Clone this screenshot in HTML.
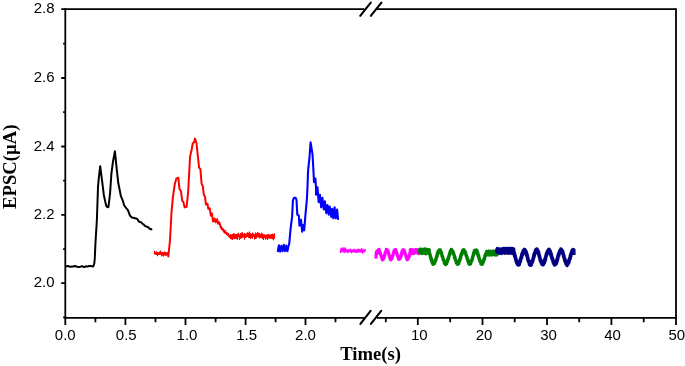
<!DOCTYPE html>
<html><head><meta charset="utf-8"><title>EPSC vs Time</title>
<style>
html,body{margin:0;padding:0;background:#fff;}
body{width:685px;height:366px;overflow:hidden;}
svg{display:block;}
.t{font-family:"Liberation Sans",Arial,sans-serif;font-size:15px;fill:#000;}
.b{font-family:"Liberation Serif","Times New Roman",serif;font-weight:bold;font-size:18.67px;fill:#000;}
</style></head><body>
<svg width="685" height="366" viewBox="0 0 685 366">
<rect width="685" height="366" fill="#fff"/>
<g stroke="#000" stroke-width="1.8" fill="none" stroke-linecap="butt">
<path d="M65.3,318.7 V8.299999999999999"/>
<path d="M676.0,318.7 V8.299999999999999"/>
<path d="M65.3,9.2 H364.4 M377,9.2 H676.0"/>
<path d="M65.3,317.8 H364.4 M377,317.8 H676.0"/>
<path d="M61.2,9.2 H65.3 M61.2,78.0 H65.3 M61.2,146.5 H65.3 M61.2,214.9 H65.3 M61.2,283.2 H65.3 M63.1,43.6 H65.3 M63.1,112.2 H65.3 M63.1,180.7 H65.3 M63.1,249.1 H65.3 M63.1,317.45 H65.3 "/>
<path d="M65.3,317.8 V325.0 M125.4,317.8 V325.0 M185.5,317.8 V325.0 M245.6,317.8 V325.0 M305.5,317.8 V325.0 M417.8,317.8 V325.0 M482.5,317.8 V325.0 M547.0,317.8 V325.0 M611.4,317.8 V325.0 M676.0,317.8 V325.0 M95.4,317.8 V322.2 M155.5,317.8 V322.2 M215.6,317.8 V322.2 M275.6,317.8 V322.2 M335.5,317.8 V322.2 M385.8,317.8 V322.2 M450.2,317.8 V322.2 M514.7,317.8 V322.2 M579.2,317.8 V322.2 M643.7,317.8 V322.2 "/>
</g>
<g stroke="#000" stroke-width="2.1" stroke-linecap="round" fill="none">
<path d="M360.4,323.9 L370.6,310.9 M370.9,323.9 L381.2,310.9"/>
<path d="M360.2,15.8 L370.8,2.6 M370.8,15.8 L381.4,2.6"/>
</g>
<g class="t" text-anchor="end">
<text x="54.6" y="13.4">2.8</text>
<text x="54.6" y="82.2">2.6</text>
<text x="54.6" y="150.7">2.4</text>
<text x="54.6" y="219.1">2.2</text>
<text x="54.6" y="287.4">2.0</text>
</g>
<g class="t" text-anchor="middle">
<text x="65.3" y="340.4">0.0</text>
<text x="126.3" y="340.4">0.5</text>
<text x="187.0" y="340.4">1.0</text>
<text x="246.6" y="340.4">1.5</text>
<text x="305.5" y="340.4">2.0</text>
<text x="419.3" y="340.4">10</text>
<text x="484.1" y="340.4">20</text>
<text x="548.5" y="340.4">30</text>
<text x="612.6" y="340.4">40</text>
<text x="676.8" y="340.4">50</text>
</g>
<text class="b" x="340.2" y="359.8">Time(s)</text>
<text class="b" transform="translate(15.9,208.9) rotate(-90)">EPSC(µA)</text>
<path d="M65.5,266.5 L66.6,266.2 L68.0,266.0 L69.4,266.5 L70.8,266.7 L72.2,266.4 L73.6,266.5 L75.0,266.0 L76.4,266.5 L77.8,266.9 L79.2,266.9 L80.6,266.7 L82.0,266.1 L83.4,266.9 L84.8,266.9 L86.2,266.2 L87.6,266.6 L89.0,266.0 L90.4,266.1 L91.8,266.3 L93.2,266.5 L94.3,263.5 L94.8,258.0 L95.4,244.0 L96.9,219.5 L98.0,187.0 L98.8,178.0 L100.2,166.2 L101.9,179.4 L103.8,194.7 L105.2,201.5 L106.3,206.0 L107.3,207.2 L108.4,207.0 L109.3,200.0 L110.1,192.8 L111.4,173.7 L112.9,162.2 L114.9,151.2 L116.8,169.9 L118.3,183.3 L119.7,190.0 L120.8,195.9 L122.7,200.3 L124.2,205.5 L126.4,208.4 L127.8,209.9 L130.1,215.8 L131.3,217.0 L132.5,217.8 L133.7,217.7 L134.9,218.3 L136.2,218.5 L137.4,219.1 L138.6,221.2 L139.9,222.1 L141.1,222.2 L142.3,223.7 L143.6,224.3 L144.8,225.8 L146.0,226.3 L147.3,226.9 L148.5,227.5 L149.7,228.8 L151.0,229.4 L152.2,228.8" fill="none" stroke="#000" stroke-width="2.0" stroke-linejoin="round" stroke-linecap="butt"/>
<path d="M154.4,253.5 L168.2,253.9 L168.3,256.5 L169.9,241.5 L171.0,222.0 L171.4,213.3 L172.9,197.1 L173.6,192.0 L174.8,184.0 L176.3,178.7 L178.3,177.7 L179.5,189.0 L181.0,191.2 L182.2,200.8 L183.2,201.5 L184.7,207.4 L186.6,206.7 L188.1,192.7 L189.1,174.2 L190.1,156.5 L191.7,149.2 L192.8,143.3 L194.0,142.5 L195.0,138.6 L196.5,143.3 L197.9,156.5 L199.1,167.6 L200.4,169.1 L201.6,183.8 L202.8,186.1 L203.8,194.9 L204.9,196.4 L206.0,204.5 L207.5,203.8 L208.3,208.9 L209.7,208.2 L210.8,215.6 L211.9,213.3 L213.1,221.5 L214.6,218.5 L215.6,222.2 L217.1,219.2 L218.1,223.7 L219.3,222.2 L220.8,227.4 L223.7,230.8 L227.4,234.0 L229.6,236.6 L234.8,236.3 L242.2,235.6 L256.5,235.6 L266.0,236.3 L275.0,236.8" fill="none" stroke="#f00" stroke-width="2.0" stroke-linejoin="round" stroke-linecap="butt"/>
<path d="M154.5,250.7V254.1M155.5,252.2V254.8M156.5,251.3V255.0M157.5,252.1V256.3M158.5,252.3V255.1M159.5,251.4V254.6M160.5,250.5V254.2M161.5,251.9V256.6M162.5,252.0V255.8M163.5,252.3V256.6M164.5,251.5V255.6M165.5,251.8V255.8M166.5,252.5V255.8M167.5,252.0V255.2M221.5,226.1V229.9M222.5,227.8V230.3M223.5,228.4V232.5M224.5,229.7V233.4M225.5,230.3V233.7M226.5,231.9V234.9M227.5,232.4V235.4M228.5,233.1V236.6M229.5,235.5V237.8M230.5,233.9V239.0M231.5,234.6V239.4M232.5,234.0V239.9M233.5,233.2V238.8M234.5,233.4V239.3M235.5,234.1V239.1M236.5,234.0V239.0M237.5,233.4V240.0M238.5,232.7V237.6M239.5,234.4V239.9M240.5,233.0V238.8M241.5,232.5V238.4M242.5,232.2V237.7M243.5,233.8V237.4M244.5,232.9V239.7M245.5,233.8V238.0M246.5,233.2V237.6M247.5,232.3V236.8M248.5,232.7V238.1M249.5,231.4V237.9M250.5,233.1V238.9M251.5,233.8V238.1M252.5,232.4V238.7M253.5,233.4V237.0M254.5,234.5V239.5M255.5,232.6V239.1M256.5,233.3V238.5M257.5,232.3V237.2M258.5,232.6V237.4M259.5,233.0V238.4M260.5,234.0V237.9M261.5,232.6V238.1M262.5,233.4V238.9M263.5,234.2V240.0M264.5,234.2V237.9M265.5,234.8V239.8M266.5,234.4V238.8M267.5,234.3V239.9M268.5,234.0V238.5M269.5,234.6V238.7M270.5,234.4V238.4M271.5,234.1V238.9M272.5,233.8V239.3M273.5,233.9V240.3M274.5,233.3V238.7" fill="none" stroke="#f00" stroke-width="1.15"/>
<path d="M277.7,252.0 L278.9,245.2 L280.1,251.6 L281.3,245.9 L282.5,251.3 L283.8,244.9 L285.0,251.1 L286.2,245.6 L287.4,251.3 L288.6,245.6 L289.2,244.2 L290.5,229.5 L291.4,222.0 L292.1,216.9 L292.9,200.6 L293.8,198.0 L294.8,197.7 L295.8,198.0 L296.5,199.9 L297.3,214.7 L298.8,215.4 L299.5,225.7 L301.0,219.8 L302.2,231.6 L303.2,225.0 L304.2,230.1 L305.4,215.4 L306.9,199.2 L307.4,189.0 L308.1,170.4 L309.5,157.1 L310.6,142.4 L312.5,154.2 L313.5,171.9 L314.0,182.2 L315.4,178.5 L316.0,187.4 L316.0,194.7 L317.5,187.4 L318.7,202.1 L319.9,194.7 L321.2,207.3 L322.4,197.7 L323.8,209.5 L324.9,201.4 L326.3,213.2 L327.5,205.1 L328.7,214.7 L329.7,206.5 L331.2,216.9 L332.2,208.8 L333.4,218.3 L334.6,207.3 L335.8,218.3 L337.1,209.5 L338.1,219.8" fill="none" stroke="#00f" stroke-width="2.1" stroke-linejoin="round" stroke-linecap="butt"/>
<path d="M340.4,252.9 L341.3,248.3 L342.2,251.6 L343.2,248.0 L344.1,252.4 L345.0,248.0 L345.9,251.9 L346.8,249.6 L347.8,252.5 L348.7,249.8 L349.6,251.6 L350.5,249.3 L351.5,252.6 L352.4,250.0 L353.3,251.8 L354.3,249.3 L355.2,252.3 L356.1,250.0 L357.0,252.5 L358.0,249.3 L358.9,252.1 L359.8,249.6 L360.8,251.8 L361.7,248.7 L362.6,253.0 L363.5,250.0 L364.5,251.7 L365.4,249.2" fill="none" stroke="#f0f" stroke-width="1.6" stroke-linejoin="round" stroke-linecap="butt"/>
<path d="M375.9,258.6 L376.1,255.0 L376.5,251.5 L377.0,254.2 L377.3,251.0 L377.6,252.1 L377.9,250.2 L378.2,250.9 L378.5,249.5 L378.8,251.2 L379.1,249.3 L379.4,251.4 L379.7,251.2 L380.0,253.4 L380.3,252.4 L380.6,254.9 L380.9,254.9 L381.2,256.7 L381.5,256.2 L381.8,258.6 L382.1,257.9 L382.4,259.9 L382.7,258.5 L383.0,259.8 L383.3,258.1 L383.6,258.5 L383.9,256.4 L384.2,257.7 L384.5,254.8 L384.8,255.4 L385.1,252.6 L385.4,253.1 L385.7,251.2 L386.0,252.3 L386.3,249.4 L386.6,250.7 L386.9,249.8 L387.2,251.4 L387.5,249.9 L387.8,252.3 L388.1,251.0 L388.4,253.7 L388.7,252.8 L389.0,255.7 L389.3,255.4 L389.6,257.5 L389.9,256.3 L390.2,259.3 L390.5,257.7 L390.8,259.9 L391.1,257.9 L391.4,259.5 L391.7,257.7 L392.0,258.8 L392.3,255.9 L392.6,256.8 L392.9,254.6 L393.2,254.8 L393.5,252.4 L393.8,252.8 L394.1,250.5 L394.4,252.1 L394.7,249.7 L395.0,251.5 L395.3,249.5 L395.6,251.3 L395.9,249.6 L396.2,252.6 L396.5,251.5 L396.8,254.3 L397.1,253.4 L397.4,256.3 L397.7,255.6 L398.0,257.6 L398.3,256.9 L398.6,259.3 L398.9,258.0 L399.2,259.5 L399.5,257.7 L399.8,259.1 L400.1,256.9 L400.4,258.2 L400.7,256.0 L401.0,257.0 L401.3,253.5 L401.6,254.8 L401.9,251.5 L402.2,252.5 L402.5,250.0 L402.8,251.6 L403.1,249.7 L403.4,251.1 L403.7,249.8 L404.0,251.7 L404.3,250.2 L404.6,252.4 L404.9,252.1 L405.2,254.3 L405.5,253.9 L405.8,256.3 L406.1,255.9 L406.4,258.3 L406.7,257.6 L407.0,259.7 L407.3,258.1 L407.6,259.8 L407.9,257.9 L408.2,259.0 L408.5,256.7 L408.8,257.6 L409.1,255.4 L409.4,256.6 L410.0,252.6 L410.3,249.8 L410.6,253.7 L410.9,249.3 L411.2,252.8 L411.5,249.8 L411.8,253.6 L412.1,249.8 L412.4,253.5 L412.7,249.7 L413.0,252.4 L413.3,250.2 L413.6,253.6 L413.9,250.0 L414.2,252.9 L414.5,250.3 L414.8,252.5 L415.1,249.8 L415.5,252.9 L415.8,249.5 L416.1,252.4 L416.4,249.5 L416.7,252.4 L417.0,249.5 L417.3,252.9 L417.6,249.7 L417.9,252.9 L418.2,250.5 L418.5,253.6 L418.8,249.8 L419.1,252.6 L419.4,249.9" fill="none" stroke="#f0f" stroke-width="3.1" stroke-linejoin="round" stroke-linecap="butt"/>
<path d="M419.4,252.5 L419.7,249.6 L420.0,253.2 L420.3,249.2 L420.6,252.4 L420.9,249.9 L421.2,253.0 L421.5,249.4 L421.8,253.6 L422.1,249.3 L422.4,253.5 L422.7,249.6 L423.0,252.5 L423.3,249.8 L423.6,252.3 L423.9,249.7 L424.2,253.3 L424.4,248.9 L424.7,252.6 L425.0,249.1 L425.3,253.5 L425.6,249.2 L425.9,253.8 L426.2,249.3 L426.5,253.0 L426.8,249.4 L427.1,252.3 L427.4,250.3 L427.7,253.1 L428.0,249.7 L428.3,252.5 L428.6,249.7 L428.9,253.3 L429.2,249.5 L429.3,254.0 L429.6,252.7 L429.9,255.3 L430.2,254.4 L430.5,258.0 L430.8,256.9 L431.1,259.9 L431.4,258.3 L431.7,261.7 L432.0,260.2 L432.3,263.2 L432.6,261.2 L432.9,264.4 L433.2,262.5 L433.5,263.9 L433.8,262.6 L434.1,264.0 L434.4,262.1 L434.7,263.3 L435.0,260.3 L435.3,261.6 L435.6,259.3 L435.9,260.6 L436.2,257.7 L436.5,258.1 L436.8,255.3 L437.1,256.6 L437.4,253.0 L437.7,254.2 L438.0,251.3 L438.3,252.9 L438.6,250.9 L438.9,251.6 L439.2,249.8 L439.5,251.9 L439.8,250.1 L440.1,251.5 L440.4,249.9 L440.7,252.9 L441.0,251.6 L441.3,253.5 L441.6,252.6 L441.9,256.0 L442.2,255.1 L442.5,257.6 L442.8,257.0 L443.1,259.7 L443.4,259.0 L443.7,261.0 L444.0,260.2 L444.3,263.4 L444.6,262.0 L444.9,263.5 L445.2,262.6 L445.5,264.7 L445.8,262.7 L446.1,263.9 L446.4,262.0 L446.7,263.8 L447.0,261.1 L447.3,262.1 L447.6,259.3 L447.9,260.4 L448.2,257.5 L448.5,258.8 L448.8,255.8 L449.1,256.5 L449.4,253.9 L449.7,255.0 L450.0,251.9 L450.3,253.6 L450.6,250.4 L450.9,251.7 L451.2,249.4 L451.5,251.4 L451.8,249.5 L452.1,252.0 L452.4,250.5 L452.7,252.2 L453.0,251.2 L453.3,253.7 L453.6,252.9 L453.9,255.3 L454.2,254.6 L454.5,257.9 L454.8,256.5 L455.1,259.4 L455.4,258.7 L455.7,260.9 L456.0,260.4 L456.3,263.2 L456.6,261.0 L456.9,263.5 L457.2,262.3 L457.5,264.4 L457.8,262.4 L458.1,263.9 L458.4,262.4 L458.7,263.8 L459.0,261.3 L459.3,262.1 L459.6,259.2 L459.9,260.7 L460.2,257.7 L460.5,258.9 L460.8,255.1 L461.1,256.6 L461.4,253.3 L461.7,254.8 L462.0,252.1 L462.3,253.7 L462.6,250.4 L462.9,251.7 L463.2,249.8 L463.5,251.5 L463.8,249.6 L464.1,252.0 L464.4,250.2 L464.7,252.5 L465.0,251.3 L465.3,253.6 L465.6,252.1 L465.9,255.6 L466.2,254.5 L466.5,257.0 L466.8,256.2 L467.1,259.2 L467.4,257.8 L467.7,260.9 L468.0,259.6 L468.3,262.4 L468.6,261.0 L468.9,264.2 L469.2,262.5 L469.5,264.3 L469.8,262.2 L470.1,264.2 L470.4,262.4 L470.7,263.8 L471.0,261.1 L471.3,262.0 L471.6,260.1 L471.9,260.7 L472.2,258.0 L472.5,259.1 L472.8,256.2 L473.1,256.3 L473.4,253.4 L473.7,254.8 L474.0,251.7 L474.3,253.4 L474.6,250.3 L474.9,252.7 L475.2,250.3 L475.5,251.4 L475.8,250.0 L476.1,252.2 L476.4,249.8 L476.7,252.8 L477.0,250.4 L477.3,253.9 L477.6,252.0 L477.9,255.7 L478.2,254.1 L478.5,257.4 L478.8,255.7 L479.1,259.1 L479.4,258.4 L479.7,261.2 L480.0,260.3 L480.3,262.4 L480.6,261.4 L480.9,264.0 L481.2,262.6 L481.5,264.1 L481.8,262.6 L482.1,264.5 L482.4,261.7 L482.7,263.6 L483.0,260.8 L483.3,262.4 L483.6,259.7 L483.9,260.6 L484.2,258.3 L484.5,259.3 L484.8,255.9 L485.1,256.7 L485.4,254.0 L485.7,254.9 L486.2,254.2 L486.5,251.5 L486.7,255.2 L487.0,251.4 L487.3,254.1 L487.6,251.7 L487.9,254.2 L488.2,252.1 L488.5,254.3 L488.8,251.0 L489.1,255.1 L489.4,251.2 L489.7,255.2 L490.0,252.1 L490.3,254.2 L490.6,252.2 L490.9,253.9 L491.2,251.4 L491.5,254.5 L491.8,251.5 L492.1,255.1 L492.5,251.9 L492.8,254.2 L493.1,251.2 L493.4,253.9 L493.7,251.0 L494.0,254.4 L494.3,252.3 L494.6,254.2 L494.9,252.2 L495.2,255.1 L495.5,252.2 L495.8,254.0 L496.1,251.4 L496.4,254.2 L496.7,251.8 L497.0,255.0 L497.3,251.7 L497.6,254.9" fill="none" stroke="#008000" stroke-width="3.2" stroke-linejoin="round" stroke-linecap="butt"/>
<path d="M496.4,252.3 L496.7,249.7 L497.0,252.0 L497.3,248.6 L497.6,252.1 L497.9,249.8 L498.2,252.1 L498.5,249.1 L498.8,252.9 L499.1,249.2 L499.4,252.8 L499.7,249.2 L500.0,253.0 L500.3,249.0 L500.6,252.2 L500.9,249.4 L501.2,253.4 L501.5,249.2 L501.8,252.9 L502.1,249.6 L502.4,252.9 L502.7,248.9 L503.0,252.1 L503.3,248.5 L503.6,252.5 L503.9,249.4 L504.2,252.9 L504.5,248.5 L504.8,253.2 L505.2,249.1 L505.5,252.0 L505.8,249.2 L506.1,252.8 L506.4,248.6 L506.7,252.2 L507.0,249.2 L507.3,252.9 L507.6,248.9 L507.9,252.0 L508.2,248.6 L508.5,252.1 L508.8,248.6 L509.1,253.2 L509.4,249.0 L509.7,252.7 L510.0,249.4 L510.3,252.5 L510.6,248.5 L510.9,252.9 L511.2,249.2 L511.5,252.4 L511.8,248.4 L512.1,253.3 L512.4,248.5 L512.7,253.3 L513.0,249.4 L513.3,253.2 L513.6,248.9 L513.8,253.9 L514.1,252.1 L514.4,255.6 L514.7,254.0 L515.0,257.4 L515.3,256.2 L515.6,259.0 L515.9,258.6 L516.2,261.7 L516.5,260.8 L516.8,262.9 L517.1,261.7 L517.4,264.3 L517.7,263.2 L518.0,264.6 L518.3,263.0 L518.6,265.0 L518.9,262.7 L519.2,264.8 L519.5,261.4 L519.8,262.9 L520.1,260.0 L520.4,261.4 L520.7,258.3 L521.0,259.0 L521.3,256.5 L521.6,257.8 L521.9,253.8 L522.2,255.2 L522.5,252.6 L522.8,254.0 L523.1,250.8 L523.4,252.6 L523.7,250.3 L524.0,251.5 L524.3,249.6 L524.6,250.8 L524.9,249.6 L525.2,252.3 L525.5,250.4 L525.8,252.7 L526.1,251.6 L526.4,255.0 L526.7,253.4 L527.0,256.3 L527.3,255.4 L527.6,259.0 L527.9,257.9 L528.2,261.0 L528.5,260.3 L528.8,262.3 L529.1,261.5 L529.4,264.4 L529.7,262.3 L530.0,265.0 L530.3,262.7 L530.6,265.3 L530.9,263.4 L531.2,265.0 L531.5,262.0 L531.8,263.3 L532.1,260.8 L532.4,262.0 L532.7,259.6 L533.0,260.4 L533.3,257.3 L533.6,258.1 L533.9,254.7 L534.2,256.4 L534.5,253.0 L534.8,254.0 L535.1,251.8 L535.4,252.1 L535.7,249.8 L536.0,251.3 L536.3,249.4 L536.6,250.9 L536.9,249.1 L537.2,251.3 L537.5,249.8 L537.8,252.5 L538.1,251.0 L538.4,253.9 L538.7,252.5 L539.0,255.9 L539.3,255.1 L539.6,257.9 L539.9,257.3 L540.2,260.3 L540.5,259.5 L540.8,261.7 L541.1,260.4 L541.4,263.3 L541.7,261.9 L542.0,264.2 L542.3,262.9 L542.6,264.7 L542.9,263.2 L543.2,264.7 L543.5,262.4 L543.8,263.5 L544.1,261.6 L544.4,262.9 L544.7,259.5 L545.0,261.1 L545.3,257.7 L545.6,259.0 L545.9,255.8 L546.2,256.4 L546.5,253.3 L546.8,254.5 L547.1,252.2 L547.4,253.5 L547.7,250.8 L548.0,252.1 L548.3,249.9 L548.6,251.7 L548.9,249.2 L549.2,251.9 L549.5,249.7 L549.8,252.5 L550.1,250.8 L550.4,253.9 L550.7,252.5 L551.0,255.7 L551.3,254.1 L551.6,257.7 L551.9,256.9 L552.2,259.3 L552.5,258.1 L552.8,261.2 L553.1,260.3 L553.4,263.0 L553.7,262.4 L554.0,263.9 L554.3,262.8 L554.6,264.9 L554.9,262.7 L555.2,264.8 L555.5,263.2 L555.8,263.9 L556.1,261.9 L556.4,263.6 L556.7,259.9 L557.0,261.5 L557.3,258.5 L557.6,259.5 L557.9,256.1 L558.2,256.8 L558.5,253.8 L558.8,255.6 L559.1,252.4 L559.4,253.3 L559.7,250.8 L560.0,252.2 L560.3,250.0 L560.6,251.0 L560.9,249.1 L561.2,251.7 L561.5,249.4 L561.8,251.6 L562.1,250.5 L562.4,252.7 L562.7,251.3 L563.0,254.4 L563.3,253.8 L563.6,256.7 L563.9,255.4 L564.2,258.7 L564.5,258.2 L564.8,260.7 L565.1,259.4 L565.4,262.4 L565.7,261.5 L566.0,263.8 L566.3,262.7 L566.6,264.7 L566.9,263.1 L567.2,265.4 L567.5,262.6 L567.8,264.3 L568.1,262.5 L568.4,263.4 L568.7,260.7 L569.0,262.3 L569.3,258.9 L569.6,259.8 L569.9,257.4 L570.2,258.5 L570.5,254.9 L570.8,256.2 L571.1,253.3 L571.4,254.2 L571.7,251.5 L572.0,252.5 L572.3,250.1 L572.6,252.0 L572.9,249.6 L573.2,251.5 L573.8,249.8 L573.8,255.0" fill="none" stroke="#000080" stroke-width="3.5" stroke-linejoin="round" stroke-linecap="butt"/>
</svg>
</body></html>
